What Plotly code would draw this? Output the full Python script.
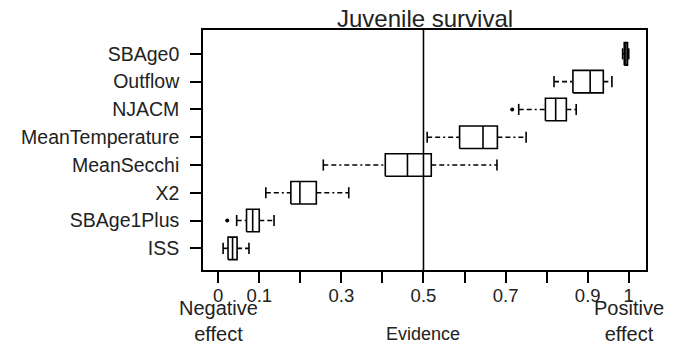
import plotly.graph_objects as go

# ---- data ----
categories = ["ISS", "SBAge1Plus", "X2", "MeanSecchi", "MeanTemperature",
              "NJACM", "Outflow", "SBAge0"]
lower_whisker = [0.012, 0.045, 0.116, 0.256, 0.509, 0.732, 0.818, 0.985]
q1 =            [0.024, 0.069, 0.177, 0.407, 0.588, 0.797, 0.864, 0.989]
median =        [0.035, 0.084, 0.199, 0.461, 0.645, 0.822, 0.906, 0.993]
q3 =            [0.046, 0.100, 0.239, 0.519, 0.680, 0.848, 0.938, 0.997]
upper_whisker = [0.075, 0.136, 0.318, 0.679, 0.750, 0.872, 0.959, 1.000]
outlier_cat = ["SBAge1Plus", "NJACM"]
outlier_val = [0.022, 0.716]
x_tickvals = [0, 0.1, 0.2, 0.3, 0.4, 0.5, 0.6, 0.7, 0.8, 0.9, 1.0]
x_ticktext = ["0", "0.1", "", "0.3", "", "0.5", "", "0.7", "", "0.9", "1"]
ref_line = 0.5

# ---- style ----
FONT = "Liberation Sans, Arial, Helvetica, sans-serif"
HALF = 0.405   # half box height (category units)
CAP = 0.2      # half staple height
LW = 1.6

pos = {c: i + 1 for i, c in enumerate(categories)}

bx, by = [], []
wx, wy = [], []
cx, cy = [], []
for i, c in enumerate(categories):
    p = pos[c]
    bx += [q1[i], q3[i], q3[i], q1[i], q1[i], None]
    by += [p - HALF, p - HALF, p + HALF, p + HALF, p - HALF, None]
    bx += [median[i], median[i], None]
    by += [p - HALF, p + HALF, None]
    wx += [lower_whisker[i], q1[i], None, q3[i], upper_whisker[i], None]
    wy += [p, p, None, p, p, None]
    cx += [lower_whisker[i], lower_whisker[i], None, upper_whisker[i], upper_whisker[i], None]
    cy += [p - CAP, p + CAP, None, p - CAP, p + CAP, None]

fig = go.Figure()
fig.add_trace(go.Scatter(x=wx, y=wy, mode="lines",
                         line=dict(color="black", width=LW, dash="5px,3px,5px,3px,2px,3px"),
                         hoverinfo="skip", showlegend=False))
fig.add_trace(go.Scatter(x=bx, y=by, mode="lines",
                         line=dict(color="black", width=LW),
                         hoverinfo="skip", showlegend=False))
fig.add_trace(go.Scatter(x=cx, y=cy, mode="lines",
                         line=dict(color="black", width=LW),
                         hoverinfo="skip", showlegend=False))
fig.add_trace(go.Scatter(x=outlier_val, y=[pos[c] for c in outlier_cat], mode="markers",
                         marker=dict(color="black", size=4),
                         hoverinfo="skip", showlegend=False))

fig.add_shape(type="line", xref="x", yref="paper", x0=ref_line, x1=ref_line,
              y0=0, y1=1, line=dict(color="black", width=LW))

fig.update_layout(
    width=679, height=344,
    margin=dict(l=203, r=33, t=30, b=74),
    paper_bgcolor="white", plot_bgcolor="white",
    font=dict(family=FONT, color="black", size=18),
    showlegend=False,
    xaxis=dict(range=[-0.037, 1.042], tickvals=x_tickvals, ticktext=x_ticktext,
               ticks="outside", ticklen=11, tickwidth=LW, tickcolor="black",
               showline=True, linecolor="black", linewidth=LW, mirror=True,
               showgrid=False, zeroline=False, ticklabelstandoff=-3,
               tickfont=dict(family=FONT, size=18.5, color="#222")),
    yaxis=dict(range=[0.22, 8.86], tickvals=[pos[c] for c in categories],
               ticktext=categories,
               ticks="outside", ticklen=11, tickwidth=LW, tickcolor="black",
               showline=True, linecolor="black", linewidth=LW, mirror=True,
               showgrid=False, zeroline=False, ticklabelstandoff=7,
               tickfont=dict(family=FONT, size=19.5, color="#222")),
    annotations=[
        dict(text="Juvenile survival", xref="paper", yref="paper", x=0.5, y=1,
             xanchor="center", yanchor="bottom", yshift=-4, showarrow=False,
             font=dict(family=FONT, size=24, color="#222")),
        dict(text="Negative<br>effect", xref="x", yref="paper", x=0, y=0,
             xanchor="center", yanchor="top", yshift=-25, showarrow=False,
             font=dict(family=FONT, size=20, color="#222")),
        dict(text="Positive<br>effect", xref="x", yref="paper", x=1, y=0,
             xanchor="center", yanchor="top", yshift=-25, showarrow=False,
             font=dict(family=FONT, size=20, color="#222")),
        dict(text="Evidence", xref="x", yref="paper", x=0.5, y=0,
             xanchor="center", yanchor="top", yshift=-52, showarrow=False,
             font=dict(family=FONT, size=18, color="#222")),
    ],
)

fig.write_html("out.html", config={"displayModeBar": False},
               post_script="document.body.style.margin='0px';document.body.style.overflow='hidden';")
